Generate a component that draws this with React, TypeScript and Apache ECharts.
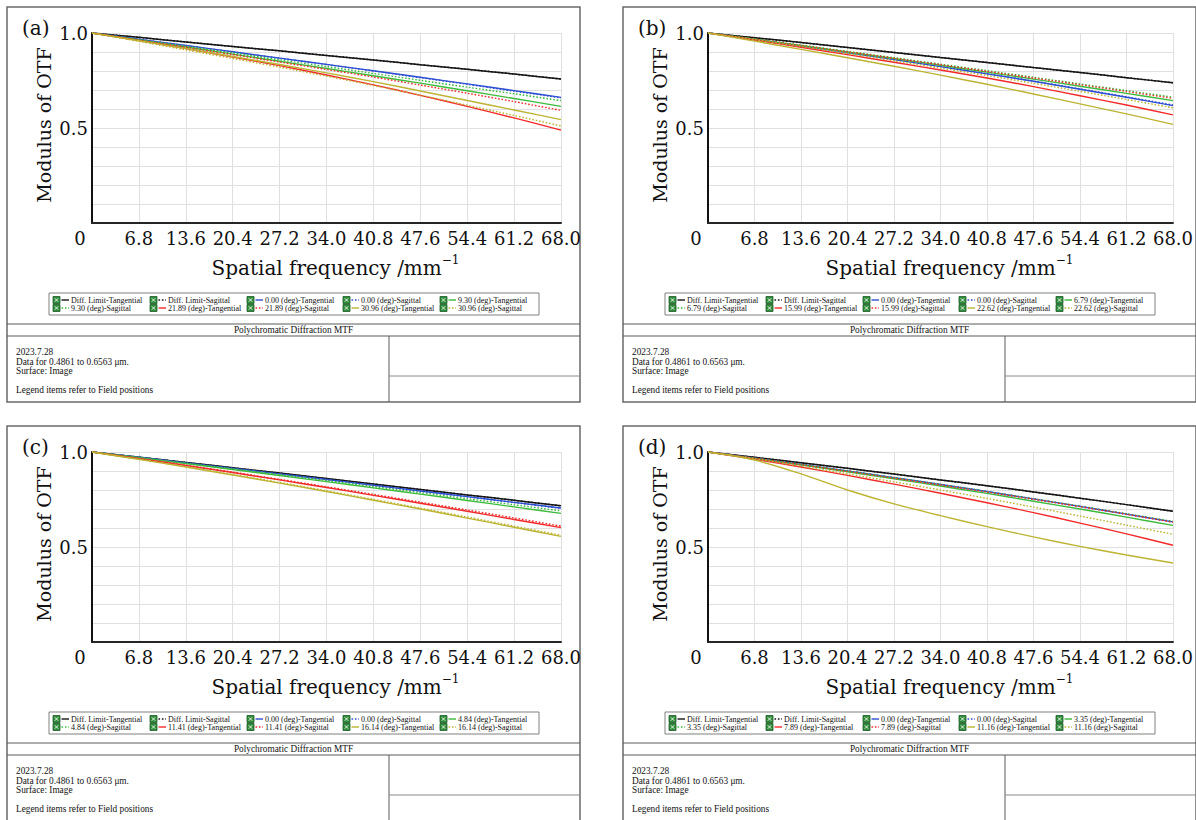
import React, { useEffect, useRef } from "react";
import * as echarts from "echarts";

// ---------------- data ----------------
const FREQ = [0, 6.8, 13.6, 20.4, 27.2, 34.0, 40.8, 47.6, 54.4, 61.2, 68.0];
const X_TICK_LABELS = ["0", "6.8", "13.6", "20.4", "27.2", "34.0", "40.8", "47.6", "54.4", "61.2", "68.0"];
const Y_LABEL_VALUES = [0.5, 1.0];
const Y_LABEL_TEXTS = ["0.5", "1.0"];

const PANEL_LABELS = ["(a)", "(b)", "(c)", "(d)"];
const FIELDS_A = ["0.00", "9.30", "21.89", "30.96"];
const FIELDS_B = ["0.00", "6.79", "15.99", "22.62"];
const FIELDS_C = ["0.00", "4.84", "11.41", "16.14"];
const FIELDS_D = ["0.00", "3.35", "7.89", "11.16"];

const CHART_TITLE = "Polychromatic Diffraction MTF";
const INFO_LINES = ["2023.7.28", "Data for 0.4861 to 0.6563 μm.", "Surface: Image", "", "Legend items refer to Field positions"];
const X_NAME = "Spatial frequency /mm";
const X_NAME_SUP = "−1";
const Y_NAME = "Modulus of OTF";

// panel (a)
const A_DIFF_T = [1.0, 0.977, 0.953, 0.929, 0.906, 0.882, 0.858, 0.833, 0.809, 0.784, 0.758];
const A_DIFF_S = [1.0, 0.977, 0.953, 0.929, 0.906, 0.882, 0.858, 0.833, 0.809, 0.784, 0.758];
const A_F1_T = [1.0, 0.967, 0.934, 0.901, 0.868, 0.835, 0.801, 0.767, 0.732, 0.697, 0.661];
const A_F1_S = [1.0, 0.967, 0.934, 0.9, 0.867, 0.834, 0.8, 0.765, 0.73, 0.694, 0.658];
const A_F2_T = [1.0, 0.963, 0.926, 0.889, 0.851, 0.813, 0.775, 0.736, 0.696, 0.655, 0.614];
const A_F2_S = [1.0, 0.965, 0.93, 0.895, 0.859, 0.823, 0.787, 0.751, 0.715, 0.68, 0.644];
const A_F3_T = [1.0, 0.96, 0.918, 0.874, 0.828, 0.779, 0.727, 0.672, 0.614, 0.553, 0.489];
const A_F3_S = [1.0, 0.962, 0.925, 0.886, 0.847, 0.808, 0.768, 0.726, 0.683, 0.639, 0.593];
const A_F4_T = [1.0, 0.959, 0.918, 0.876, 0.834, 0.79, 0.744, 0.695, 0.645, 0.595, 0.544];
const A_F4_S = [1.0, 0.956, 0.911, 0.866, 0.82, 0.773, 0.724, 0.673, 0.62, 0.566, 0.511];

// panel (b)
const B_DIFF_T = [1.0, 0.975, 0.95, 0.924, 0.898, 0.871, 0.845, 0.818, 0.792, 0.765, 0.738];
const B_DIFF_S = [1.0, 0.975, 0.95, 0.924, 0.898, 0.871, 0.845, 0.818, 0.792, 0.765, 0.738];
const B_F1_T = [1.0, 0.966, 0.931, 0.896, 0.86, 0.823, 0.785, 0.746, 0.704, 0.662, 0.618];
const B_F1_S = [1.0, 0.966, 0.932, 0.897, 0.861, 0.824, 0.786, 0.747, 0.706, 0.664, 0.621];
const B_F2_T = [1.0, 0.967, 0.934, 0.9, 0.866, 0.83, 0.794, 0.757, 0.72, 0.682, 0.644];
const B_F2_S = [1.0, 0.968, 0.936, 0.903, 0.87, 0.836, 0.802, 0.767, 0.732, 0.697, 0.662];
const B_F3_T = [1.0, 0.963, 0.925, 0.886, 0.846, 0.805, 0.763, 0.718, 0.67, 0.621, 0.569];
const B_F3_S = [1.0, 0.967, 0.934, 0.901, 0.867, 0.833, 0.798, 0.763, 0.728, 0.692, 0.656];
const B_F4_T = [1.0, 0.957, 0.914, 0.87, 0.825, 0.778, 0.73, 0.679, 0.627, 0.574, 0.519];
const B_F4_S = [1.0, 0.965, 0.929, 0.892, 0.854, 0.815, 0.776, 0.735, 0.693, 0.65, 0.606];

// panel (c)
const C_DIFF_T = [1.0, 0.973, 0.945, 0.917, 0.889, 0.86, 0.831, 0.803, 0.774, 0.746, 0.717];
const C_DIFF_S = [1.0, 0.973, 0.945, 0.917, 0.889, 0.86, 0.831, 0.803, 0.774, 0.746, 0.717];
const C_F1_T = [1.0, 0.972, 0.943, 0.914, 0.885, 0.855, 0.825, 0.795, 0.765, 0.735, 0.705];
const C_F1_S = [1.0, 0.972, 0.943, 0.914, 0.884, 0.854, 0.824, 0.794, 0.764, 0.734, 0.703];
const C_F2_T = [1.0, 0.97, 0.939, 0.908, 0.876, 0.844, 0.811, 0.778, 0.745, 0.711, 0.677];
const C_F2_S = [1.0, 0.971, 0.941, 0.911, 0.881, 0.85, 0.818, 0.786, 0.754, 0.722, 0.69];
const C_F3_T = [1.0, 0.965, 0.929, 0.892, 0.853, 0.813, 0.772, 0.73, 0.688, 0.645, 0.602];
const C_F3_S = [1.0, 0.966, 0.931, 0.894, 0.856, 0.817, 0.777, 0.736, 0.695, 0.653, 0.61];
const C_F4_T = [1.0, 0.961, 0.921, 0.879, 0.836, 0.792, 0.746, 0.7, 0.652, 0.604, 0.556];
const C_F4_S = [1.0, 0.962, 0.923, 0.882, 0.84, 0.796, 0.751, 0.705, 0.658, 0.61, 0.562];

// panel (d)
const D_DIFF_T = [1.0, 0.972, 0.943, 0.914, 0.884, 0.853, 0.822, 0.79, 0.757, 0.723, 0.688];
const D_DIFF_S = [1.0, 0.972, 0.943, 0.914, 0.884, 0.853, 0.822, 0.79, 0.757, 0.723, 0.688];
const D_F1_T = [1.0, 0.967, 0.934, 0.9, 0.865, 0.829, 0.792, 0.753, 0.714, 0.673, 0.632];
const D_F1_S = [1.0, 0.967, 0.934, 0.9, 0.865, 0.829, 0.792, 0.753, 0.714, 0.673, 0.632];
const D_F2_T = [1.0, 0.966, 0.932, 0.896, 0.859, 0.821, 0.782, 0.741, 0.7, 0.657, 0.614];
const D_F2_S = [1.0, 0.967, 0.934, 0.9, 0.865, 0.829, 0.792, 0.754, 0.715, 0.675, 0.635];
const D_F3_T = [1.0, 0.962, 0.921, 0.877, 0.831, 0.783, 0.733, 0.681, 0.626, 0.569, 0.509];
const D_F3_S = [1.0, 0.967, 0.933, 0.898, 0.862, 0.826, 0.789, 0.751, 0.712, 0.672, 0.63];
const D_F4_T = [1.0, 0.958, 0.885, 0.8, 0.727, 0.665, 0.607, 0.553, 0.503, 0.458, 0.416];
const D_F4_S = [1.0, 0.964, 0.925, 0.885, 0.843, 0.8, 0.756, 0.71, 0.663, 0.615, 0.567];

const PANELS = [
  { label: PANEL_LABELS[0], fields: FIELDS_A, curves: [A_DIFF_T, A_DIFF_S, A_F1_T, A_F1_S, A_F2_T, A_F2_S, A_F3_T, A_F3_S, A_F4_T, A_F4_S] },
  { label: PANEL_LABELS[1], fields: FIELDS_B, curves: [B_DIFF_T, B_DIFF_S, B_F1_T, B_F1_S, B_F2_T, B_F2_S, B_F3_T, B_F3_S, B_F4_T, B_F4_S] },
  { label: PANEL_LABELS[2], fields: FIELDS_C, curves: [C_DIFF_T, C_DIFF_S, C_F1_T, C_F1_S, C_F2_T, C_F2_S, C_F3_T, C_F3_S, C_F4_T, C_F4_S] },
  { label: PANEL_LABELS[3], fields: FIELDS_D, curves: [D_DIFF_T, D_DIFF_S, D_F1_T, D_F1_S, D_F2_T, D_F2_S, D_F3_T, D_F3_S, D_F4_T, D_F4_S] },
];

// ---------------- style / layout ----------------
const COLORS = ["#151515", "#2f4fd2", "#3cbb3c", "#f22a2a", "#bcb432"];
const SERIF = '"DejaVu Serif", serif';
const TIMES = '"Liberation Serif", "Times New Roman", serif';
const PANEL_ORIGINS = [
  [7, 7],
  [623, 7],
  [7, 426],
  [623, 426],
];
const PANEL_W = 573;
const PANEL_H = 395;
const LEGEND_COL_X = [46, 143, 240, 336, 433];
const LEGEND_ROW_Y = [293, 301];
const SAG_DASH = [1.6, 1.8];

function seriesName(fields: string[], i: number) {
  const k = Math.floor(i / 2);
  const kind = i % 2 === 0 ? "Tangential" : "Sagittal";
  return k === 0 ? `Diff. Limit-${kind}` : `${fields[k - 1]} (deg)-${kind}`;
}

function panelGraphics(panel: any, ox: number, oy: number) {
  const els: any[] = [];
  const lineEl = (x1: number, y1: number, x2: number, y2: number, color = "#5a5a5a", w = 1) => ({
    type: "line",
    silent: true,
    shape: { x1, y1, x2, y2 },
    style: { stroke: color, lineWidth: w },
  });
  const textEl = (text: string, x: number, y: number, font: string, align = "left") => ({
    type: "text",
    silent: true,
    style: {
      text,
      x,
      y,
      font,
      fill: "#111",
      align,
      textAlign: align,
      verticalAlign: "middle",
      textVerticalAlign: "middle",
    },
  });
  els.push({
    type: "rect",
    silent: true,
    shape: { x: ox, y: oy, width: PANEL_W, height: PANEL_H },
    style: { fill: "none", stroke: "#6a6a6a", lineWidth: 1.5 },
  });
  els.push(textEl(panel.label, ox + 15, oy + 21, `20px ${SERIF}`));
  els.push({
    type: "rect",
    silent: true,
    shape: { x: ox + 42, y: oy + 286, width: 490, height: 22 },
    style: { fill: "#fff", stroke: "#808080", lineWidth: 1 },
  });
  for (let i = 0; i < 10; i++) {
    const row = Math.floor(i / 5);
    const col = i % 5;
    const ix = ox + LEGEND_COL_X[col];
    const iy = oy + LEGEND_ROW_Y[row];
    const color = COLORS[Math.floor(i / 2)];
    els.push({
      type: "rect",
      silent: true,
      shape: { x: ix, y: iy - 3.5, width: 7, height: 7 },
      style: { fill: "#2f8d3a", stroke: "#1c5a26", lineWidth: 0.8 },
    });
    els.push(lineEl(ix + 1.8, iy - 1.7, ix + 5.2, iy + 1.7, "#fff", 0.9));
    els.push(lineEl(ix + 5.2, iy - 1.7, ix + 1.8, iy + 1.7, "#fff", 0.9));
    els.push({
      type: "line",
      silent: true,
      shape: { x1: ix + 8.5, y1: iy, x2: ix + 16, y2: iy },
      style: { stroke: color, lineWidth: 1.4, lineDash: i % 2 === 1 ? SAG_DASH : null },
    });
    els.push(textEl(seriesName(panel.fields, i), ix + 18, iy, `8px ${TIMES}`));
  }
  els.push(lineEl(ox, oy + 317, ox + PANEL_W, oy + 317));
  els.push(lineEl(ox, oy + 329, ox + PANEL_W, oy + 329));
  els.push(textEl(CHART_TITLE, ox + PANEL_W / 2, oy + 323, `9.3px ${TIMES}`, "center"));
  els.push(lineEl(ox + 382, oy + 329, ox + 382, oy + PANEL_H));
  els.push(lineEl(ox + 382, oy + 369, ox + PANEL_W, oy + 369, "#8a8a8a"));
  INFO_LINES.forEach((t, k) => {
    if (t) els.push(textEl(t, ox + 9, oy + 345 + k * 9.6, `9.3px ${TIMES}`));
  });
  return els;
}

function buildOption() {
  const grid: any[] = [];
  const xAxis: any[] = [];
  const yAxis: any[] = [];
  const series: any[] = [];
  const elements: any[] = [];

  PANELS.forEach((panel, p) => {
    const [ox, oy] = PANEL_ORIGINS[p];
    grid.push({ left: ox + 85, top: oy + 26, width: 469, height: 190 });
    xAxis.push({
      type: "value",
      gridIndex: p,
      min: 0,
      max: 68,
      interval: 6.8,
      axisLine: { show: true, lineStyle: { color: "#262626", width: 2 } },
      axisTick: { show: false },
      splitLine: { show: true, lineStyle: { color: "#e0e0e0", width: 1 } },
      axisLabel: {
        margin: 6,
        fontSize: 18,
        fontFamily: SERIF,
        color: "#111",
        formatter: (v: number) => {
          const idx = FREQ.findIndex((f) => Math.abs(f - v) < 1e-6);
          if (idx < 0) return "";
          return idx === 0 ? `{z|${X_TICK_LABELS[0]}}` : X_TICK_LABELS[idx];
        },
        rich: {
          z: { fontSize: 18, fontFamily: SERIF, color: "#111", padding: [0, 24, 0, 0] },
        },
      },
      name: `{m|${X_NAME}}{sup|${X_NAME_SUP}}`,
      nameLocation: "middle",
      nameGap: 31,
      nameTextStyle: {
        padding: [0, 0, 0, 18],
        rich: {
          m: { fontSize: 20, fontFamily: SERIF, color: "#111", lineHeight: 24, verticalAlign: "bottom" },
          sup: { fontSize: 12, fontFamily: SERIF, color: "#111", lineHeight: 12, verticalAlign: "top" },
        },
      },
    });
    yAxis.push({
      type: "value",
      gridIndex: p,
      min: 0,
      max: 1,
      interval: 0.1,
      axisLine: { show: true, lineStyle: { color: "#111", width: 2 } },
      axisTick: { show: false },
      splitLine: { show: true, lineStyle: { color: "#e0e0e0", width: 1 } },
      axisLabel: {
        margin: 4,
        fontSize: 18,
        fontFamily: SERIF,
        color: "#111",
        formatter: (v: number) => {
          const idx = Y_LABEL_VALUES.findIndex((y) => Math.abs(y - v) < 1e-6);
          return idx >= 0 ? Y_LABEL_TEXTS[idx] : "";
        },
      },
      name: Y_NAME,
      nameLocation: "middle",
      nameRotate: 90,
      nameGap: 39,
      nameTextStyle: { fontSize: 19, fontFamily: SERIF, color: "#111", padding: [0, 0, 0, 6] },
    });
    panel.curves.forEach((vals: number[], i: number) => {
      const color = COLORS[Math.floor(i / 2)];
      const sag = i % 2 === 1;
      series.push({
        type: "line",
        name: seriesName(panel.fields, i),
        xAxisIndex: p,
        yAxisIndex: p,
        data: FREQ.map((f, k) => [f, vals[k]]),
        symbol: "none",
        showSymbol: false,
        smooth: 0.3,
        silent: true,
        lineStyle: { color, width: i < 2 ? 1.5 : 1.4, type: sag ? SAG_DASH : "solid" },
        itemStyle: { color },
      });
    });
    elements.push(...panelGraphics(panel, ox, oy));
  });

  return {
    animation: false,
    backgroundColor: "#ffffff",
    grid,
    xAxis,
    yAxis,
    series,
    graphic: { elements },
  };
}

export default function App() {
  const ref = useRef<HTMLDivElement>(null);
  useEffect(() => {
    if (!ref.current) return;
    const chart = echarts.init(ref.current, undefined, { renderer: "svg" });
    chart.setOption(buildOption() as any);
    return () => chart.dispose();
  }, []);
  return (
    <div
      ref={ref}
      style={{ position: "absolute", left: 0, top: 0, width: 1196, height: 820, background: "#fff" }}
    />
  );
}
